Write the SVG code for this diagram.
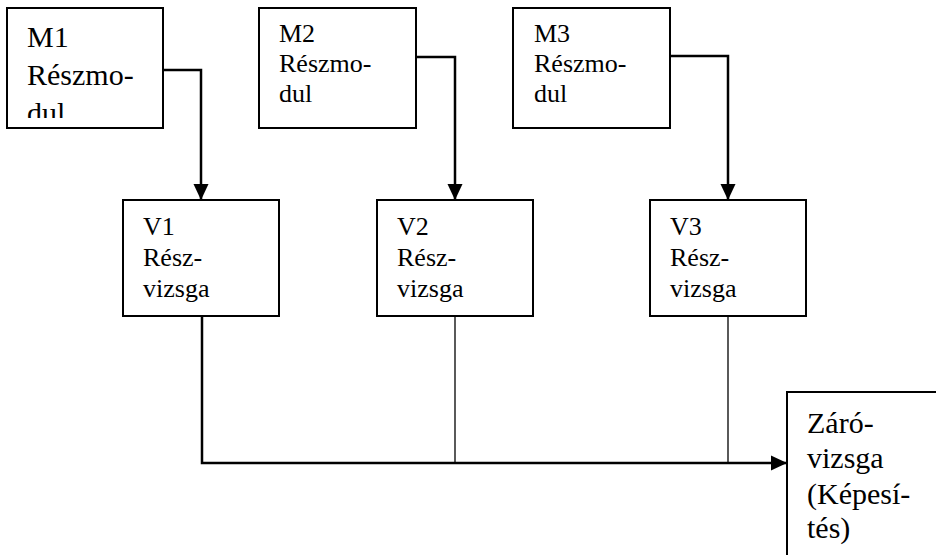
<svg xmlns="http://www.w3.org/2000/svg" width="936" height="555" viewBox="0 0 936 555">
<style>
.box{fill:#fff;stroke:#000;stroke-width:2}
.t{font-family:"Liberation Serif","Times New Roman",serif;fill:#000}
.m1{font-size:30px}
.m{font-size:26px}
.v{font-size:26px}
.z{font-size:30px}
.c{fill:none;stroke:#000;stroke-width:2.5}
.thin{fill:none;stroke:#000;stroke-width:1.3}
</style>
<defs>
<marker id="ah" markerWidth="16" markerHeight="16" refX="17" refY="8" viewBox="0 0 17 16" markerUnits="userSpaceOnUse" orient="auto">
<path d="M0,0 L17,8 L0,16 Z" fill="#000"/>
</marker>
<clipPath id="m1clip"><rect x="7" y="8" width="156" height="110"/></clipPath>
</defs>
<g id="connectors">
<path class="c" d="M163,70 H201 V200" marker-end="url(#ah)"/>
<path class="c" d="M416,57 H455 V200" marker-end="url(#ah)"/>
<path class="c" d="M670,56 H728 V200" marker-end="url(#ah)"/>
<path class="c" d="M202,316 V463 H787" marker-end="url(#ah)"/>
<path class="thin" d="M455,316 V463"/>
<path class="thin" d="M728,316 V463"/>
</g>
<g id="M1">
<rect class="box" x="7" y="8" width="156" height="120"/>
<text class="t m1" clip-path="url(#m1clip)"><tspan x="27" y="47">M1</tspan><tspan x="27" y="85">Részmo-</tspan><tspan x="27" y="123">dul</tspan></text>
</g>
<g id="M2">
<rect class="box" x="259" y="8" width="157" height="120"/>
<text class="t m"><tspan x="279" y="42">M2</tspan><tspan x="279" y="72">Részmo-</tspan><tspan x="279" y="102">dul</tspan></text>
</g>
<g id="M3">
<rect class="box" x="513" y="8" width="157" height="120"/>
<text class="t m"><tspan x="534" y="42">M3</tspan><tspan x="534" y="72">Részmo-</tspan><tspan x="534" y="102">dul</tspan></text>
</g>
<g id="V1">
<rect class="box" x="123" y="200" width="156" height="116"/>
<text class="t v"><tspan x="143" y="235">V1</tspan><tspan x="143" y="266">Rész-</tspan><tspan x="143" y="297">vizsga</tspan></text>
</g>
<g id="V2">
<rect class="box" x="377" y="200" width="156" height="116"/>
<text class="t v"><tspan x="397" y="235">V2</tspan><tspan x="397" y="266">Rész-</tspan><tspan x="397" y="297">vizsga</tspan></text>
</g>
<g id="V3">
<rect class="box" x="650" y="200" width="156" height="116"/>
<text class="t v"><tspan x="670" y="235">V3</tspan><tspan x="670" y="266">Rész-</tspan><tspan x="670" y="297">vizsga</tspan></text>
</g>
<g id="Zaro">
<rect class="box" x="787" y="392" width="160" height="180"/>
<text class="t z"><tspan x="807" y="433">Záró-</tspan><tspan x="807" y="468">vizsga</tspan><tspan x="807" y="504">(Képesí-</tspan><tspan x="807" y="538">tés)</tspan></text>
</g>
</svg>
